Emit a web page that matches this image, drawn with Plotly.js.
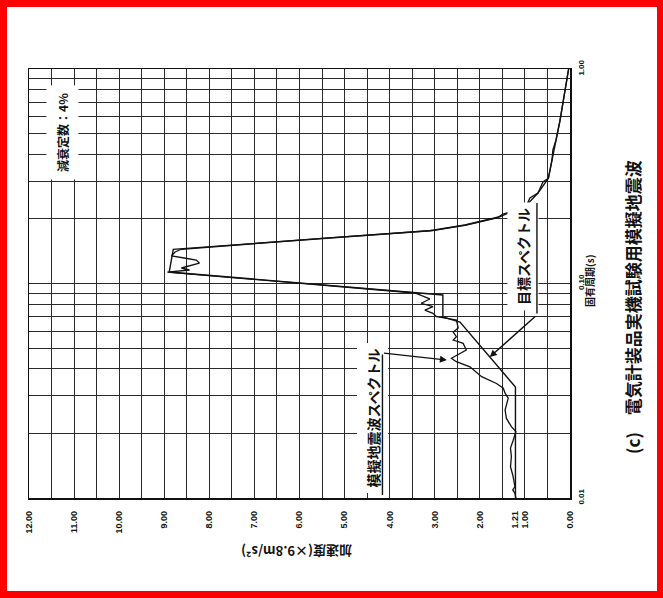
<!DOCTYPE html>
<html>
<head>
<meta charset="utf-8">
<script src="https://cdn.plot.ly/plotly-3.0.1.min.js"></script>
<style>
  html, body { margin: 0; padding: 0; background: #fff; }
  #wrap { position: relative; width: 663px; height: 598px; }
  #chart { position: absolute; left: 0; top: 0; width: 663px; height: 598px; }
  #frame { position: absolute; left: 0; top: 0; width: 663px; height: 598px; box-sizing: border-box;
           border: 7px solid #ff0000; border-right-width: 6px; pointer-events: none; }
</style>
</head>
<body>
<div id="wrap"><div id="chart"></div><div id="frame"></div></div>
<script>
// ---- data (period in s, spectral acceleration in ×9.8 m/s²) ----
const periodTarget = [0.01, 0.0329, 0.0661, 0.0698, 0.0884, 0.1131, 0.1442, 0.1624, 0.1763, 0.1874, 0.2048, 0.2323, 0.2642, 0.3093, 0.4344, 0.578, 0.798, 1.0];
const accelTarget  = [1.21, 1.21, 2.44, 2.82, 2.82, 8.89, 8.80, 5.56, 3.11, 2.33, 1.56, 0.96, 0.71, 0.48, 0.33, 0.22, 0.11, 0.03];

const periodSim = [0.0100, 0.0105, 0.0109, 0.0113, 0.0128, 0.0140, 0.0156, 0.0171, 0.0186, 0.0204,
                   0.0215, 0.0235, 0.0257, 0.0276, 0.0292, 0.0308, 0.0325, 0.0342, 0.0368, 0.0409,
                   0.0432, 0.0448, 0.0473, 0.0490, 0.0526, 0.0545, 0.0565, 0.0594, 0.0620, 0.0676,
                   0.0700, 0.0726, 0.0752, 0.0780, 0.0809, 0.0847, 0.0903, 0.1002, 0.1084, 0.1131,
                   0.1156, 0.1181, 0.1246, 0.1287, 0.1315, 0.1344, 0.1403, 0.1444, 0.1622, 0.1766,
                   0.1874, 0.2021, 0.2109, 0.2154, 0.2323, 0.2504, 0.2642, 0.2973, 0.3093, 0.3766,
                   0.4193, 0.4667, 0.578, 0.798, 1.0];
const accelSim  = [1.20, 1.22, 1.27, 1.22, 1.27, 1.32, 1.30, 1.32, 1.26, 1.20,
                   1.30, 1.41, 1.44, 1.41, 1.37, 1.44, 1.48, 1.63, 1.96, 2.22,
                   2.52, 2.63, 2.44, 2.30, 2.37, 2.59, 2.52, 2.59, 2.48, 2.52,
                   2.96, 3.04, 3.22, 3.04, 3.30, 3.11, 3.44, 6.00, 8.00, 8.93,
                   8.44, 8.62, 8.22, 8.29, 8.56, 8.84, 8.76, 8.62, 5.50, 3.05,
                   2.30, 1.62, 1.49, 1.33, 0.96, 0.89, 0.71, 0.60, 0.48, 0.40,
                   0.38, 0.31, 0.22, 0.11, 0.03];

const accelTickVals = [12, 11, 10, 9, 8, 7, 6, 5, 4, 3, 2, 1.21, 1, 0];
const accelTickText = ['12.00','11.00','10.00','9.00','8.00','7.00','6.00','5.00','4.00','3.00','2.00','1.21','1.00','0.00'];
const periodTickVals = [0.01, 0.1, 1];
const periodTickText = ['0.01', '0.10', '1.00'];
const periodGridVals = [0.01,0.02,0.03,0.04,0.05,0.06,0.07,0.08,0.09,0.1,0.2,0.3,0.4,0.5,0.6,0.7,0.8,0.9,1.0];

const titleText = '(c)　電気計装品実機試験用模擬地震波';
const xTitleText = '加速度(×9.8m/s²)';
const yTitleText = '固有周期(s)';
const dampingText = '減衰定数：4%';
const simLabel = '模擬地震波スペクトル';
const targetLabel = '目標スペクトル';

// ---- drawing ----
const NUM = 'Liberation Sans, Arial, sans-serif';
const CJK = 'Noto Sans CJK JP, sans-serif';

const traces = [
  // target spectrum drawn on the overlay axes (identical ranges) which carry the grid
  { x: accelTarget, y: periodTarget, xaxis: 'x2', yaxis: 'y2', type: 'scatter', mode: 'lines',
    name: targetLabel, line: { color: '#111', width: 1.4 }, hoverinfo: 'skip' },
  { x: accelSim, y: periodSim, xaxis: 'x', yaxis: 'y', type: 'scatter', mode: 'lines',
    name: simLabel, line: { color: '#111', width: 1.3 }, hoverinfo: 'skip' }
];

const gridColor = '#2a2a2a';

const layout = {
  width: 663, height: 598,
  margin: { l: 29, r: 93, t: 69, b: 100 },
  paper_bgcolor: '#fff', plot_bgcolor: '#fff',
  showlegend: false,
  xaxis: {
    range: [12, 0], tickmode: 'array', tickvals: accelTickVals, ticktext: accelTickText,
    tickangle: -90, tickfont: { family: NUM, size: 9, color: '#111', weight: 'bold' },
    ticks: '', ticklabelstandoff: 8, showgrid: false, zeroline: false,
    showline: true, mirror: true, linecolor: '#111', linewidth: 1.5
  },
  xaxis2: {
    overlaying: 'x', anchor: 'y2', range: [12, 0], tickmode: 'linear', tick0: 0, dtick: 0.5,
    showticklabels: false, ticks: '', showgrid: true, gridcolor: gridColor, gridwidth: 1,
    zeroline: false, showline: false
  },
  yaxis: {
    type: 'log', range: [-2, 0], side: 'right', tickmode: 'array',
    tickvals: periodTickVals, ticktext: periodTickText, tickangle: -90,
    tickfont: { family: NUM, size: 8, color: '#111', weight: 'bold' },
    ticks: '', ticklabelstandoff: 3, showgrid: false, zeroline: false,
    showline: true, mirror: true, linecolor: '#111', linewidth: 1.5
  },
  yaxis2: {
    overlaying: 'y', anchor: 'x2', type: 'log', range: [-2, 0], side: 'right', tickmode: 'array',
    tickvals: periodGridVals, showticklabels: false, ticks: '', showgrid: true,
    gridcolor: gridColor, gridwidth: 1, zeroline: false, showline: false
  },
  annotations: [
    { xref: 'paper', yref: 'paper', x: 1.1146, y: 0.4452, text: titleText, textangle: -90,
      showarrow: false, xanchor: 'center', yanchor: 'middle',
      font: { family: CJK, size: 17, color: '#111', weight: 'bold' } },
    { xref: 'paper', yref: 'paper', x: 1.0351, y: 0.508, text: yTitleText, textangle: -90,
      showarrow: false, xanchor: 'center', yanchor: 'middle',
      font: { family: CJK, size: 10, color: '#111', weight: 'bold' } },
    { xref: 'paper', yref: 'paper', x: 0.4935, y: -0.1235, text: xTitleText, textangle: 180,
      showarrow: false, xanchor: 'center', yanchor: 'middle',
      font: { family: CJK, size: 13, color: '#111', weight: 'bold' } },
    { xref: 'x', yref: 'y', x: 11.27, y: -0.2937, text: dampingText, textangle: -90,
      showarrow: false, bgcolor: '#fff', borderpad: 7,
      font: { family: CJK, size: 12, color: '#111', weight: 'bold' } },
    { xref: 'x', yref: 'y', x: 4.38, y: -1.627, text: simLabel, textangle: -90,
      showarrow: false, bgcolor: '#fff', borderpad: 5,
      font: { family: CJK, size: 14, color: '#111', weight: 'bold' } },
    { xref: 'x', yref: 'y', x: 1.044, y: -0.8718, text: targetLabel, textangle: -90,
      showarrow: false, bgcolor: '#fff', borderpad: 5,
      font: { family: CJK, size: 14, color: '#111', weight: 'bold' } },
    // leader lines (vertical parts), drawn after the label boxes so they stay visible
    { xref: 'x', yref: 'y', x: 4.16, y: -1.986, axref: 'x', ayref: 'y', ax: 4.16, ay: -1.324,
      text: '', showarrow: true, arrowhead: 0, arrowwidth: 1.4, arrowcolor: '#111', standoff: 0 },
    { xref: 'x', yref: 'y', x: 0.733, y: -0.6247, axref: 'x', ayref: 'y', ax: 0.733, ay: -1.1469,
      text: '', showarrow: true, arrowhead: 0, arrowwidth: 1.4, arrowcolor: '#111', standoff: 0 },
    // arrows to the curves
    { xref: 'x', yref: 'y', x: 2.73, y: -1.357, axref: 'x', ayref: 'y', ax: 4.16, ay: -1.324,
      text: '', showarrow: true, arrowhead: 2, arrowsize: 1, arrowwidth: 1.4, arrowcolor: '#111' },
    { xref: 'x', yref: 'y', x: 1.78, y: -1.3427, axref: 'x', ayref: 'y', ax: 0.733, ay: -1.1469,
      text: '', showarrow: true, arrowhead: 2, arrowsize: 1, arrowwidth: 1.4, arrowcolor: '#111' }
  ]
};

Plotly.newPlot('chart', traces, layout, { staticPlot: true, displayModeBar: false });
</script>
</body>
</html>
